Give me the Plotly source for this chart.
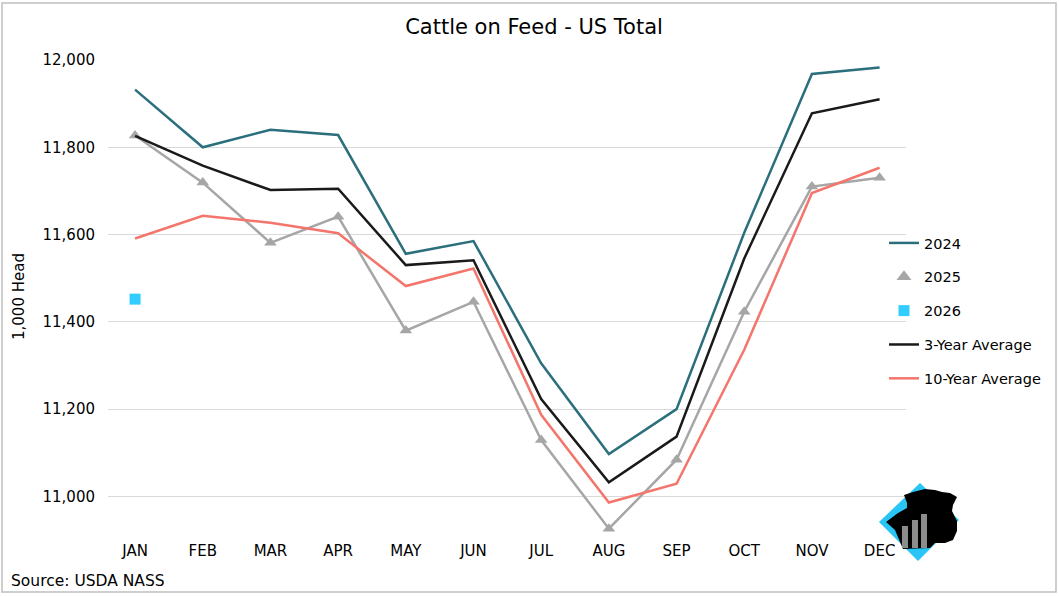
import plotly.graph_objects as go

months = ["JAN", "FEB", "MAR", "APR", "MAY", "JUN", "JUL", "AUG", "SEP", "OCT", "NOV", "DEC"]
y2024 = [11932, 11800, 11840, 11828, 11556, 11585, 11305, 11097, 11200, 11604, 11968, 11983]
y2025 = [11827, 11719, 11581, 11641, 11380, 11446, 11129, 10926, 11084, 11423, 11710, 11730]
y2026 = [11452]
avg3 = [11826, 11758, 11702, 11705, 11530, 11541, 11223, 11032, 11137, 11545, 11878, 11910]
avg10 = [11591, 11643, 11627, 11603, 11482, 11522, 11187, 10986, 11029, 11336, 11695, 11753]
y_ticks = [11000, 11200, 11400, 11600, 11800, 12000]

FONT = "DejaVu Sans"
W, H = 1059, 596
L, R, T, B = 108, 906, 60, 540


def px(x):
    return (x - L) / (R - L)


def py(y):
    return (B - y) / (B - T)


def poly(points):
    return "M " + " L ".join(f"{px(a)},{py(b)}" for a, b in points) + " Z"


fig = go.Figure()
fig.add_trace(go.Scatter(x=months, y=y2024, mode="lines", name="2024",
                         line=dict(color="#2B6F7D", width=2.5), legendgroup="a"))
fig.add_trace(go.Scatter(x=months, y=y2025, mode="lines+markers", name="2025",
                         line=dict(color="#A6A6A6", width=2.5),
                         marker=dict(symbol="triangle-up", size=11, color="#A6A6A6"),
                         legendgroup="b", showlegend=False))
fig.add_trace(go.Scatter(x=[None], y=[None], mode="markers", name="2025",
                         marker=dict(symbol="triangle-up", size=13, color="#A6A6A6"),
                         legendgroup="b"))
fig.add_trace(go.Scatter(x=months[:1], y=y2026, mode="markers", name="2026",
                         marker=dict(symbol="square", size=11, color="#33CCFF"),
                         legendgroup="c"))
fig.add_trace(go.Scatter(x=months, y=avg3, mode="lines", name="3-Year Average",
                         line=dict(color="#1A1A1A", width=2.5), legendgroup="d"))
fig.add_trace(go.Scatter(x=months, y=avg10, mode="lines", name="10-Year Average",
                         line=dict(color="#F4756B", width=2.5), legendgroup="e"))

cow = [(907, 503), (904, 495), (913, 492), (925, 489), (935, 490), (942, 492), (950, 493),
       (957, 497), (953, 505), (952, 511), (957, 521), (957, 531), (953, 540), (945, 543),
       (935, 543), (930, 548), (903, 549), (895, 530), (886, 522), (898, 513), (907, 508)]

shapes = [
    dict(type="rect", xref="paper", yref="paper", x0=px(2), x1=px(1056), y0=py(3), y1=py(592),
         line=dict(color="#BFBFBF", width=1.5), layer="below"),
    dict(type="path", xref="paper", yref="paper",
         path=poly([(920, 483), (959, 520), (918, 561), (879, 522)]),
         fillcolor="#29C5F6", line=dict(width=0)),
    dict(type="path", xref="paper", yref="paper", path=poly(cow),
         fillcolor="#000000", line=dict(width=0)),
]
for x0, top in [(902, 526), (912, 520), (921, 514)]:
    shapes.append(dict(type="rect", xref="paper", yref="paper", x0=px(x0), x1=px(x0 + 6),
                       y0=py(548), y1=py(top), fillcolor="#8C8C8C", line=dict(width=0)))

fig.update_layout(
    width=W, height=H,
    margin=dict(l=L, r=W - R, t=T, b=H - B),
    paper_bgcolor="white", plot_bgcolor="white",
    font=dict(family=FONT, color="#000000", size=15),
    title=dict(text="Cattle on Feed - US Total", x=534 / W, xref="container", xanchor="center",
               y=1 - 27 / H, yanchor="middle", font=dict(size=21, family=FONT, color="#000000")),
    showlegend=True,
    legend=dict(x=px(884), y=py(227), xanchor="left", yanchor="top",
                font=dict(size=14.5, family=FONT), traceorder="grouped", tracegroupgap=12,
                bgcolor="rgba(0,0,0,0)", itemwidth=30),
    xaxis=dict(type="category", range=[-0.4, 11.39], showgrid=False, zeroline=False,
               showline=False, ticks="", tickfont=dict(size=15, family=FONT)),
    yaxis=dict(range=[10900, 12000], tickvals=y_ticks, tickformat=",d", showgrid=True,
               gridcolor="#D9D9D9", gridwidth=1, zeroline=False, showline=False, ticks="",
               tickfont=dict(size=15, family=FONT), ticklabelstandoff=12),
    shapes=shapes,
    annotations=[
        dict(text="1,000 Head", xref="paper", yref="paper", x=px(19), y=py(297),
             textangle=-90, showarrow=False, font=dict(size=15, family=FONT),
             xanchor="center", yanchor="middle"),
        dict(text="Source: USDA NASS", xref="paper", yref="paper", x=px(9), y=py(581),
             showarrow=False, font=dict(size=15.5, family=FONT), xanchor="left", yanchor="middle"),
    ],
)

fig.write_html("out.html", post_script="document.body.style.margin='0';",
               config={"displayModeBar": False})
